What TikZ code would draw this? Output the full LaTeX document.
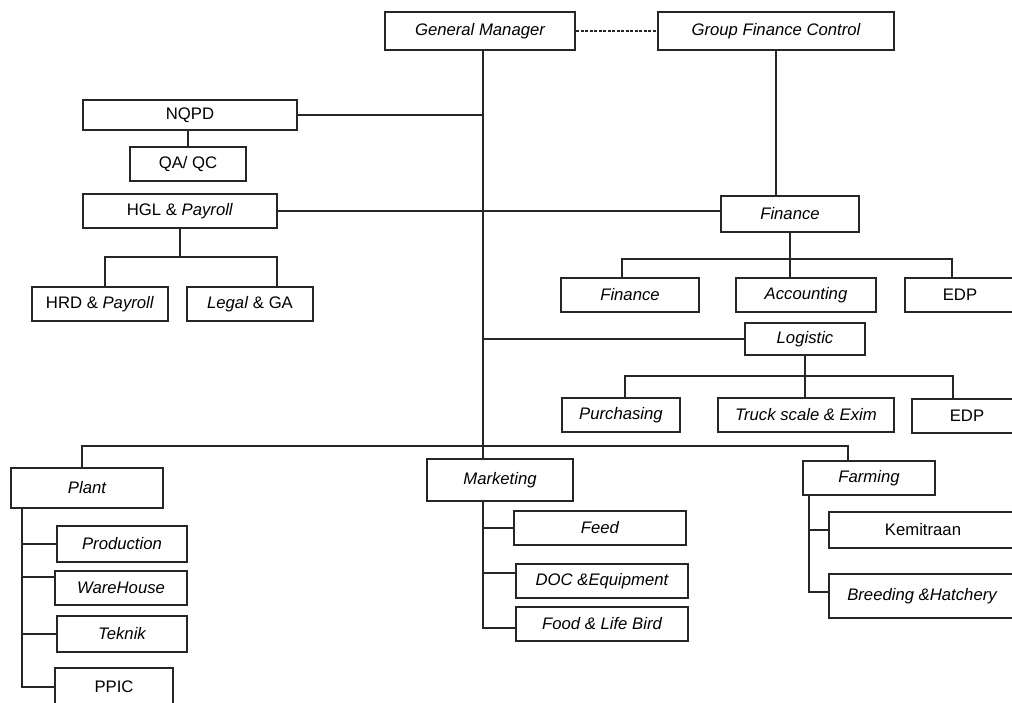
\documentclass[tikz,border=0pt]{standalone}
\usepackage{fontspec}
\setmainfont{Liberation Sans}
\begin{document}
\begin{tikzpicture}[x=1pt,y=-1pt,
  ink/.style={draw=black!85,line width=2pt},
  box/.style={ink,fill=white,inner sep=0pt,
    font=\fontsize{16.7}{19}\selectfont},
  it/.style={box,font=\fontsize{16.7}{19}\selectfont\itshape},
  link/.style={ink,line cap=rect},
  dotted link/.style={draw=black!85,line width=2pt,dash pattern=on 3pt off 1.5pt}]
\fill[white] (0,0) rectangle (1012,702);
\useasboundingbox (0,0) rectangle (1012,702);
\clip (0,0) rectangle (1012,702);

% top level
\node[it,minimum width=190pt,minimum height=38pt] (gm)  at (480,31) {General Manager};
\node[it,minimum width=236pt,minimum height=38pt] (gfc) at (776,31) {Group Finance Control};

% left staff units
\node[box,minimum width=214pt,minimum height=30pt] (nqpd) at (190,115) {NQPD};
\node[box,minimum width=116pt,minimum height=34pt] (qa)   at (188,164) {QA/ QC};
\node[box,minimum width=194pt,minimum height=34pt] (hgl)  at (180,211) {HGL \& \textit{Payroll}};
\node[box,minimum width=136pt,minimum height=34pt] (hrd)  at (100,304) {HRD \& \textit{Payroll}};
\node[box,minimum width=126pt,minimum height=34pt] (legal) at (250,304) {\textit{Legal} \& GA};

% finance branch
\node[it,minimum width=138pt,minimum height=36pt] (fin)  at (790,214) {Finance};
\node[it,minimum width=138pt,minimum height=34pt] (fin2) at (630,295) {Finance};
\node[it,minimum width=140pt,minimum height=34pt] (acc)  at (806,295) {Accounting};
\node[box,minimum width=110pt,minimum height=34pt] (edp)  at (960,295) {EDP};

% logistic branch
\node[it,minimum width=120pt,minimum height=32pt] (log)   at (805,339) {Logistic};
\node[it,minimum width=118pt,minimum height=34pt] (pur)   at (621,415) {Purchasing};
\node[it,minimum width=176pt,minimum height=34pt] (truck) at (806,415) {Truck scale \& Exim};
\node[box,minimum width=110pt,minimum height=34pt] (edp2)  at (967,416) {EDP};

% plant
\node[it,minimum width=152pt,minimum height=40pt] (plant) at (87,488) {Plant};
\node[it,minimum width=130pt,minimum height=36pt] (prod)  at (122,544) {Production};
\node[it,minimum width=132pt,minimum height=34pt] (ware)  at (121,588) {WareHouse};
\node[it,minimum width=130pt,minimum height=36pt] (tek)   at (122,634) {Teknik};
\node[box,minimum width=118pt,minimum height=38pt] (ppic) at (114,687) {PPIC};

% marketing
\node[it,minimum width=146pt,minimum height=42pt] (mkt)  at (500,480) {Marketing};
\node[it,minimum width=172pt,minimum height=34pt] (feed) at (600,528) {Feed};
\node[it,minimum width=172pt,minimum height=34pt] (doc)  at (602,581) {DOC \&Equipment};
\node[it,minimum width=172pt,minimum height=34pt] (food) at (602,624) {Food \& Life Bird};

% farming
\node[it,minimum width=132pt,minimum height=34pt] (farm)  at (869,478) {Farming};
\node[box,minimum width=188pt,minimum height=36pt] (kem)  at (923,530) {Kemitraan};
\node[it,minimum width=186pt,minimum height=44pt] (breed) at (922,596) {Breeding \&Hatchery};

% junction points of the connector bars
\coordinate (trunk) at (483,0);
\coordinate (hglL) at (105,257);
\coordinate (hglR) at (277,257);
\coordinate (finL) at (622,259);
\coordinate (finR) at (952,259);
\coordinate (logL) at (625,376);
\coordinate (logR) at (953,376);
\coordinate (busL) at (82,446);
\coordinate (busR) at (848,446);
\coordinate (plantSpine) at (22,0);
\coordinate (wareTap) at (22,577);
\coordinate (docTap) at (483,573);
\coordinate (foodTap) at (483,628);
\coordinate (farmSpine) at (809,0);
\coordinate (breedTap) at (809,592);

% connectors
\draw[dotted link] (gm.east) -- (gfc.west |- gm.east);
\draw[link] (gfc.south) -- (gfc.south |- fin.north);
\draw[link] (trunk |- gm.south) -- (trunk |- mkt.north);
\draw[link] (nqpd.east) -- (trunk |- nqpd.east);
\draw[link] (qa.north |- nqpd.south) -- (qa.north);
\draw[link] (hgl.east) -- (fin.west |- hgl.east);
\draw[link] (hgl.south) -- (hgl.south |- hglL);
\draw[link] (hrd.north -| hglL) |- (hglR) -- (hglR |- legal.north);
\draw[link] (fin.south) -- (fin.south |- acc.north);
\draw[link] (fin2.north -| finL) |- (finR) -- (finR |- edp.north);
\draw[link] (trunk |- log.west) -- (log.west);
\draw[link] (log.south) -- (log.south |- truck.north);
\draw[link] (pur.north -| logL) |- (logR) -- (logR |- edp2.north);
\draw[link] (busL |- plant.north) -- (busL) -- (busR) -- (busR |- farm.north);
% plant departments
\draw[link] (plantSpine |- plant.south) |- (ppic.west);
\draw[link] (plantSpine |- prod.west) -- (prod.west);
\draw[link] (wareTap) -- (wareTap -| ware.west);
\draw[link] (plantSpine |- tek.west) -- (tek.west);
% marketing departments
\draw[link] (docTap |- mkt.south) -- (foodTap) -- (foodTap -| food.west);
\draw[link] (docTap |- feed.west) -- (feed.west);
\draw[link] (docTap) -- (docTap -| doc.west);
% farming departments
\draw[link] (farmSpine |- farm.south) -- (breedTap) -- (breedTap -| breed.west);
\draw[link] (farmSpine |- kem.west) -- (kem.west);
\end{tikzpicture}
\end{document}
